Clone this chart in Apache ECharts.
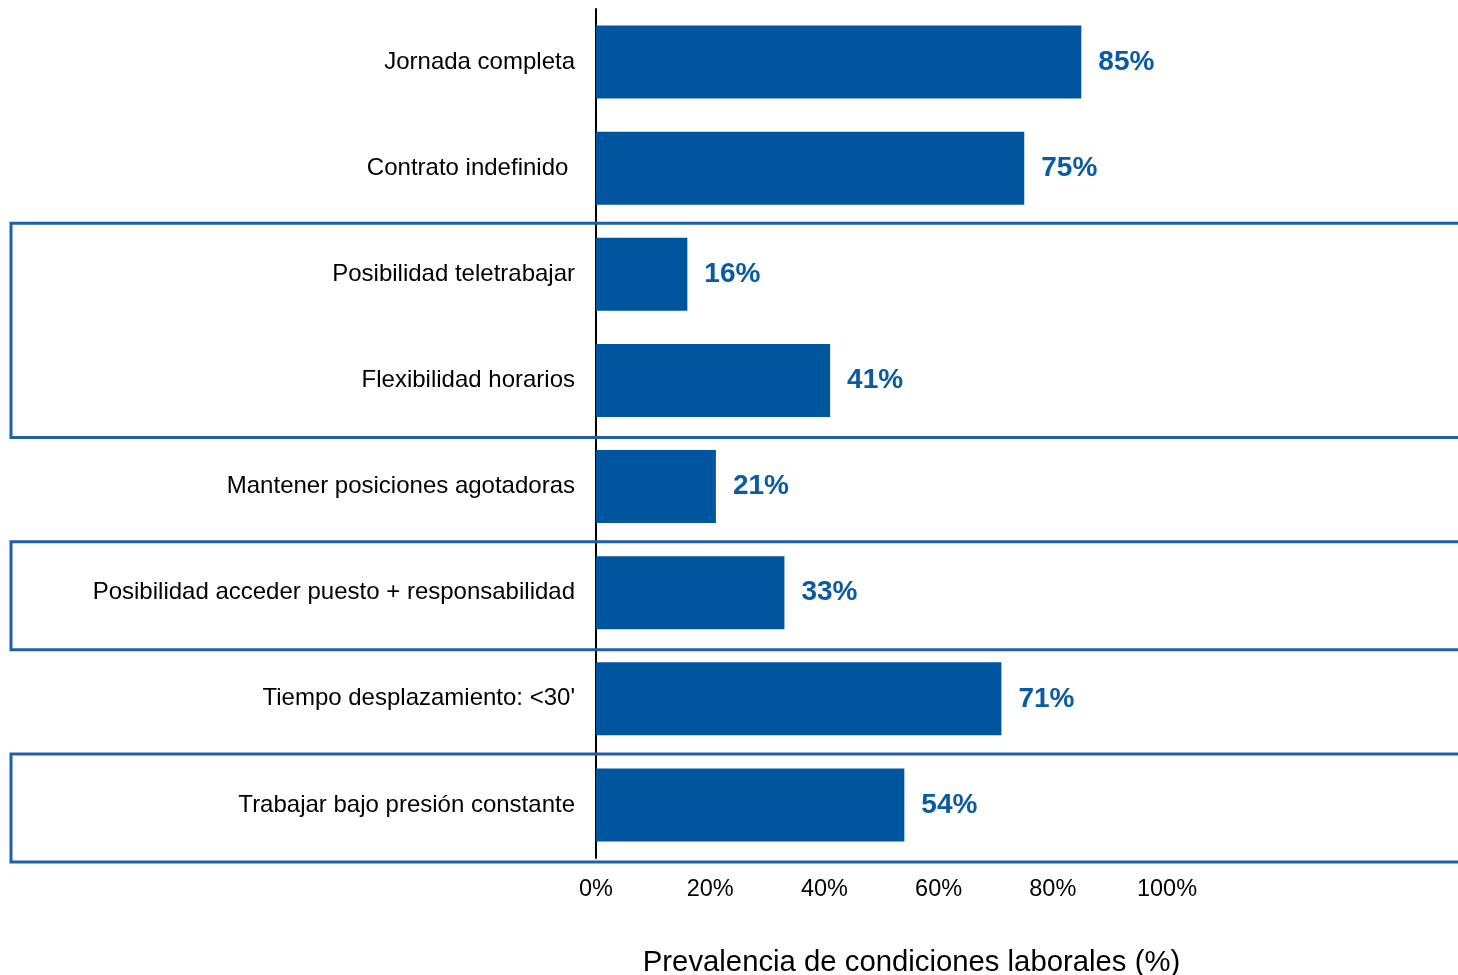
<!DOCTYPE html>
<html>
<head>
<meta charset="utf-8">
<script src="https://cdn.jsdelivr.net/npm/echarts@6/dist/echarts.min.js"></script>
<style>
  html, body { margin: 0; padding: 0; background: #ffffff; }
  #chart { width: 1458px; height: 975px; }
</style>
</head>
<body>
<div id="chart"></div>
<script>
// Working-condition categories, top to bottom
const categories = [
  'Jornada completa',
  'Contrato indefinido ',
  'Posibilidad teletrabajar',
  'Flexibilidad horarios',
  'Mantener posiciones agotadoras',
  'Posibilidad acceder puesto + responsabilidad',
  "Tiempo desplazamiento: <30'",
  'Trabajar bajo presión constante'
];
// Prevalence (%) for each category
const prevalence = [85, 75, 16, 41, 21, 33, 71, 54];
// Groups of rows outlined with a frame (first index, last index)
const framedGroups = [[2, 3], [5, 5], [7, 7]];
// Value axis ticks
const axisMin = 0;
const axisMax = 100;
const axisStep = 20;

const BAR_BLUE = '#00569E';
const FRAME_BLUE = '#1F60A8';
const LABEL_BLUE = '#0A5BA4';
const FONT = 'Liberation Sans, Arial, sans-serif';

const chart = echarts.init(document.getElementById('chart'), null, { renderer: 'canvas' });

chart.setOption({
  animation: false,
  backgroundColor: '#ffffff',
  grid: {
    left: 596, right: 291, top: 9, bottom: 117,
    containLabel: false,
    outerBoundsMode: 'none'
  },
  xAxis: {
    type: 'value',
    min: axisMin,
    max: axisMax,
    interval: axisStep,
    axisLine: { show: false },
    axisTick: { show: false },
    splitLine: { show: false },
    axisLabel: {
      formatter: '{value}%',
      color: '#000000',
      fontFamily: FONT,
      fontSize: 23.5,
      margin: 20
    },
    name: 'Prevalencia de condiciones laborales (%)',
    nameLocation: 'middle',
    nameGap: 90,
    nameTextStyle: {
      color: '#000000',
      fontFamily: FONT,
      fontSize: 29.3,
      padding: [0, 0, 0, 60]
    }
  },
  yAxis: {
    type: 'category',
    data: categories,
    inverse: true,
    axisLine: { show: true, lineStyle: { color: '#000000', width: 2 } },
    axisTick: { show: false },
    splitLine: { show: false },
    axisLabel: {
      color: '#000000',
      fontFamily: FONT,
      fontSize: 24,
      margin: 21
    }
  },
  series: [{
    type: 'bar',
    data: prevalence,
    barWidth: 73,
    itemStyle: { color: BAR_BLUE },
    label: {
      show: true,
      position: 'right',
      distance: 17,
      formatter: '{c}%',
      color: LABEL_BLUE,
      fontFamily: FONT,
      fontWeight: 'bold',
      fontSize: 28
    }
  }]
});

// Frames around grouped rows, placed from the category scale
const band = chart.convertToPixel({ yAxisIndex: 0 }, 1) - chart.convertToPixel({ yAxisIndex: 0 }, 0);
const frames = framedGroups.map(function (g) {
  const top = chart.convertToPixel({ yAxisIndex: 0 }, g[0]) - band / 2 + 2;
  const bottom = chart.convertToPixel({ yAxisIndex: 0 }, g[1]) + band / 2 + 4;
  return {
    type: 'rect',
    z: 100,
    silent: true,
    shape: { x: 11, y: top, width: 1470, height: bottom - top },
    style: { fill: 'none', stroke: FRAME_BLUE, lineWidth: 3 }
  };
});
chart.setOption({ graphic: frames });
</script>
</body>
</html>
